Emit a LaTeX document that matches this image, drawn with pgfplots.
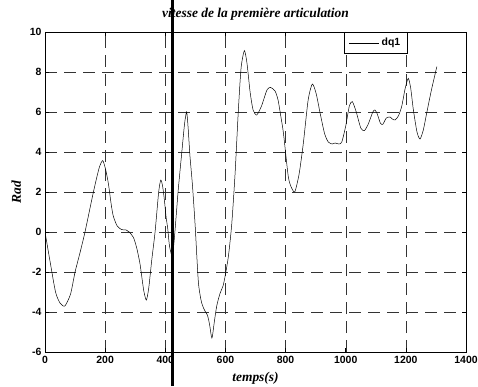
\documentclass[border=0pt]{standalone}
\usepackage{fontspec}
\setmainfont{Liberation Serif}
\setsansfont{Liberation Sans}
\usepackage{pgfplots}
\pgfplotsset{compat=1.18}
\begin{document}
\begin{tikzpicture}[x=1bp,y=1bp]
\useasboundingbox (0,0) rectangle (478,386);
\begin{axis}[
  at={(45bp,34bp)}, anchor=south west,
  scale only axis, width=421bp, height=320bp,
  xmin=0, xmax=1400, ymin=-6, ymax=10,
  xtick={0,200,...,1400}, ytick={-6,-4,...,10},
  /pgf/number format/1000 sep={},
  /pgf/number format/assume math mode=true,
  tick align=inside, major tick length=4bp,
  grid=major,
  major grid style={dash pattern=on 12bp off 7bp, black!80, line width=0.45pt},
  axis line style={line width=0.7pt},
  tick style={black, line width=0.5pt},
  tick label style={font=\sffamily\bfseries\fontsize{10.5}{12}\selectfont},
  xticklabel style={yshift=-1bp},
  title={vitesse de la première articulation},
  title style={font=\rmfamily\bfseries\itshape\fontsize{13.5}{15}\selectfont, at={(0.5,1)}, anchor=south, yshift=2bp},
  xlabel={temps(s)},
  xlabel style={font=\rmfamily\bfseries\itshape\fontsize{13.5}{15}\selectfont, yshift=-1bp},
  ylabel={Rad},
  ylabel style={font=\rmfamily\bfseries\itshape\fontsize{13.5}{15}\selectfont, yshift=2bp},
  legend style={at={(0.861,1)}, anchor=north east, draw=black, line width=0.5pt, fill=white,
    font=\sffamily\bfseries\fontsize{10.5}{12}\selectfont, inner xsep=5bp, inner ysep=4bp},
  legend image code/.code={\draw[#1] (0bp,0bp) -- (30bp,0bp);},
]
\addplot[black, line width=0.5pt, smooth, tension=0.4] coordinates {
(0,0) (16,-1.4) (35,-3.0) (50,-3.55) (66,-3.7) (85,-3.1) (100,-2.0) (117,-1.0) (133,0) (161,2.0)
(180,3.2) (192,3.57) (202,3.1) (211,2.4) (220,1.4) (227,0.8) (240,0.3) (255,0.12) (270,0.1) (280,0.0)
(294,-0.27) (305,-0.8) (316,-1.6) (328,-2.9) (337,-3.4) (345,-2.8) (355,-1.4) (366,0) (378,2.0)
(385,2.6) (391,2.3) (397,1.6) (403,0.7) (408,0.2) (414,-0.7) (424,-1.2) (433,0.2) (443,2.1) (455,4.0)
(464,5.4) (471,6.0) (476,5.2) (482,3.8) (490,2.4) (499,0.4) (510,-2.5) (521,-3.55) (532,-3.95)
(540,-4.15) (547,-4.6) (555,-5.3) (563,-4.5) (571,-3.7) (582,-3.07) (592,-2.7) (599,-2.2) (610,-1.2)
(621,0.4) (632,2.9) (643,6.1) (652,8.2) (663,9.07) (672,8.4) (682,7.0) (692,6.1) (704,5.85) (720,6.3)
(738,7.1) (750,7.23) (765,7.05) (775,6.6) (784,5.8) (793,4.93) (809,2.77) (820,2.2) (831,2.02)
(845,2.9) (859,4.43) (875,6.6) (889,7.4) (902,6.9) (915,5.93) (930,4.9) (942,4.5) (955,4.4) (965,4.45)
(977,4.4) (987,4.5) (1000,5.3) (1012,6.3) (1022,6.52) (1035,6.0) (1050,5.2) (1062,5.07) (1075,5.4)
(1090,6.0) (1097,6.1) (1105,5.9) (1115,5.45) (1123,5.38) (1135,5.7) (1147,5.75) (1155,5.65) (1164,5.6)
(1175,5.8) (1186,6.27) (1198,7.2) (1208,7.68) (1216,7.2) (1225,6.1) (1237,5.0) (1247,4.65) (1258,5.1)
(1269,5.93) (1285,7.1) (1303,8.27)
};
\addlegendentry{dq1}
\end{axis}
\draw[line width=3bp] (172,0) -- (172,386);
\end{tikzpicture}
\end{document}
